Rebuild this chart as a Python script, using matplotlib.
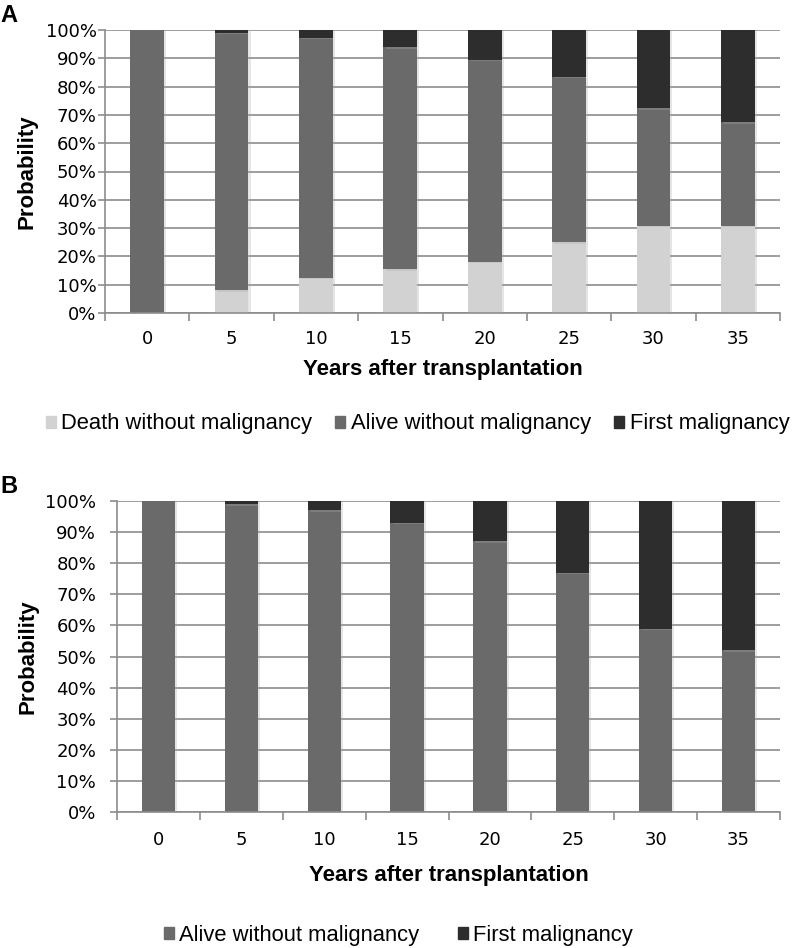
import numpy as np
import matplotlib.pyplot as plt
import matplotlib.patheffects as pe
from matplotlib.patches import Patch
from matplotlib.ticker import PercentFormatter, FixedLocator

# Datos
years = ['0', '5', '10', '15', '20', '25', '30', '35']

# Panel A
death_a = [0, 8, 12.5, 15.4, 18.1, 25, 30.8, 30.8]
alive_top_a = [100, 99, 97.3, 93.9, 89.4, 83.4, 72.3, 67.4]
# Panel B
alive_b = [100, 98.9, 97, 93, 87, 77, 59, 52]

c_death = '#d2d2d2'
c_alive = '#6a6a6a'
c_first = '#2d2d2d'
c_axis = '#8c8c8c'

plt.rcParams['font.family'] = ['Liberation Sans', 'DejaVu Sans']

fig = plt.figure(figsize=(7.98, 9.48), dpi=100)
axA = fig.add_axes([105 / 798, 1 - 313 / 948, 675 / 798, 283 / 948])
axB = fig.add_axes([117 / 798, 1 - 812 / 948, 663 / 798, 311 / 948])

shadow = [pe.SimplePatchShadow(offset=(1.5, -1), shadow_rgbFace='#aaaaaa', alpha=0.3),
          pe.Normal()]


def style(ax, ypad, ylab_x, xlab_y, xpad):
    ax.set_ylim(0, 100)
    ax.set_xlim(-0.5, len(years) - 0.5)
    ax.set_yticks(np.arange(0, 101, 10))
    ax.yaxis.set_major_formatter(PercentFormatter(decimals=0))
    ax.grid(axis='y', color=c_axis, linewidth=1.2)
    ax.set_axisbelow(True)
    for s in ['top', 'right']:
        ax.spines[s].set_visible(False)
    for s in ['left', 'bottom']:
        ax.spines[s].set_color(c_axis)
        ax.spines[s].set_linewidth(1.2)
    ax.set_xticks(np.arange(len(years)))
    ax.set_xticklabels(years)
    ax.tick_params(axis='x', which='major', length=0, pad=xpad,
                   labelsize=13, labelfontfamily='DejaVu Sans')
    ax.xaxis.set_minor_locator(FixedLocator(np.arange(-0.5, len(years), 1)))
    ax.tick_params(axis='x', which='minor', length=6, color=c_axis, width=1.2)
    ax.tick_params(axis='y', length=5, color=c_axis, width=1.2, pad=ypad,
                   labelsize=13, labelfontfamily='DejaVu Sans')
    ax.set_xlabel('Years after transplantation', fontsize=16, fontweight='bold', va='center')
    ax.xaxis.set_label_coords(0.5, xlab_y)
    ax.set_ylabel('Probability', fontsize=16, fontweight='bold', va='center')
    ax.yaxis.set_label_coords(ylab_x, 0.5)


x = np.arange(len(years))
w = 0.4
leg_kw = dict(frameon=False, fontsize=15.8, handlelength=0.46, handleheight=0.46,
              handletextpad=0.25, borderpad=0, loc='center')

# Panel A
alive_a = np.array(alive_top_a) - np.array(death_a)
first_a = 100 - np.array(alive_top_a)
axA.bar(x, death_a, w, color=c_death, path_effects=shadow)
axA.bar(x, alive_a, w, bottom=death_a, color=c_alive, path_effects=shadow)
axA.bar(x, first_a, w, bottom=alive_top_a, color=c_first, path_effects=shadow)
style(axA, ypad=1, ylab_x=-0.116, xlab_y=-0.201, xpad=12)
hA = [Patch(color=c_death), Patch(color=c_alive), Patch(color=c_first)]
lA = ['Death without malignancy', 'Alive without malignancy', 'First malignancy']
fig.legend(hA, lA, ncol=3, columnspacing=1.05,
           bbox_to_anchor=(417.5 / 798, 1 - 424 / 948), **leg_kw)
fig.text(0.0, 1 - 4 / 948, 'A', fontsize=17, fontweight='bold', va='top')

# Panel B
first_b = 100 - np.array(alive_b)
axB.bar(x, alive_b, w, color=c_alive, path_effects=shadow)
axB.bar(x, first_b, w, bottom=alive_b, color=c_first, path_effects=shadow)
style(axB, ypad=10, ylab_x=-0.134, xlab_y=-0.203, xpad=14)
hB = [Patch(color=c_alive), Patch(color=c_first)]
lB = ['Alive without malignancy', 'First malignancy']
fig.legend(hB, lB, ncol=2, columnspacing=1.75,
           bbox_to_anchor=(398.5 / 798, 1 - 935 / 948), **leg_kw)
fig.text(0.0, 1 - 475 / 948, 'B', fontsize=17, fontweight='bold', va='top')

plt.savefig('out.png', dpi=100)
